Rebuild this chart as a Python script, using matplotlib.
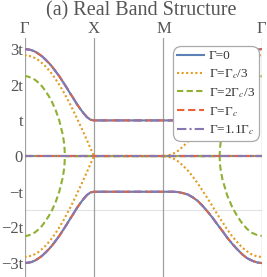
#!/usr/bin/env python3
"""Real part of the band structure along Gamma-X-M-Gamma for several gain/loss strengths."""

import numpy as np
import matplotlib
matplotlib.use("Agg")
import matplotlib.pyplot as plt

plt.rcParams["font.family"] = ["Liberation Serif", "DejaVu Serif"]
plt.rcParams["mathtext.fontset"] = "stix"

# path fractions along each segment (0 -> 1)
frac = [0.00, 0.05, 0.10, 0.15, 0.20, 0.25, 0.30, 0.35, 0.40, 0.45, 0.50,
        0.55, 0.60, 0.65, 0.70, 0.75, 0.80, 0.85, 0.90, 0.95, 1.00]

# upper band (units of t), Gamma -> X and M -> Gamma
band_gx = [3.00, 2.99, 2.97, 2.93, 2.87, 2.80, 2.71, 2.61, 2.50, 2.37, 2.24,
           2.09, 1.94, 1.78, 1.63, 1.47, 1.33, 1.20, 1.09, 1.02, 1.00]
band_mg = [1.00, 1.00, 1.00, 1.01, 1.04, 1.08, 1.16, 1.26, 1.40, 1.56, 1.73,
           1.92, 2.10, 2.29, 2.46, 2.61, 2.75, 2.86, 2.93, 2.98, 3.00]

# Gamma = Gamma_c/3
orange_gx = [2.83, 2.82, 2.79, 2.75, 2.69, 2.61, 2.52, 2.41, 2.29, 2.15, 2.00,
             1.84, 1.66, 1.48, 1.28, 1.08, 0.87, 0.66, 0.44, 0.22, 0.00]
orange_mg = [0.00, 0.02, 0.07, 0.15, 0.27, 0.41, 0.58, 0.77, 0.98, 1.19, 1.41,
             1.64, 1.85, 2.06, 2.25, 2.41, 2.56, 2.67, 2.76, 2.81, 2.83]

# Gamma = 2 Gamma_c/3
green_gx_frac = [0.00, 0.05, 0.10, 0.15, 0.20, 0.25, 0.30, 0.35, 0.40, 0.45,
                 0.50, 0.55, 0.57, 0.575, 0.58, 0.5804, 1.00]
green_gx = [2.24, 2.23, 2.19, 2.14, 2.06, 1.96, 1.83, 1.68, 1.50, 1.28,
            1.00, 0.61, 0.36, 0.26, 0.07, 0.00, 0.00]
green_mg_frac = [0.00, 0.5722, 0.575, 0.58, 0.60, 0.65, 0.70, 0.75, 0.80,
                 0.85, 0.90, 0.95, 1.00]
green_mg = [0.00, 0.00, 0.21, 0.34, 0.65, 1.11, 1.43, 1.68, 1.88,
            2.04, 2.15, 2.21, 2.24]

labels = ["Γ=0", "Γ=Γ$_c$/3", "Γ=2Γ$_c$/3", "Γ=Γ$_c$", "Γ=1.1Γ$_c$"]
colors = ["#5E81B5", "#E19C24", "#8FB032", "#EB6235", "#8778B3"]
dashes = [(None, None), (1.0, 1.2), (3.0, 1.6), (3.5, 1.8), (4.5, 1.5, 1.0, 1.5)]

sym_labels = ["Γ", "X", "M", "Γ"]
y_ticks = [-3, -2, -1, 0, 1, 2, 3]
y_labels = ["−3t", "−2t", "−t", "0", "t", "2t", "3t"]

# path node positions (units of pi): Gamma-X, X-M, M-Gamma(diagonal)
nodes = [0.0, 1.0, 2.0, 2.0 + np.sqrt(2)]


def path(gx_f, gx_v, xm_v, mg_f, mg_v):
    x = np.concatenate([np.array(gx_f) * (nodes[1] - nodes[0]) + nodes[0],
                        [nodes[1], nodes[2]],
                        np.array(mg_f) * (nodes[3] - nodes[2]) + nodes[2]])
    y = np.concatenate([gx_v, [xm_v, xm_v], mg_v])
    return x, y


curves = [
    path(frac, band_gx, 1.0, frac, band_mg),
    path(frac, orange_gx, 0.0, frac, orange_mg),
    path(green_gx_frac, green_gx, 0.0, green_mg_frac, green_mg),
    path(frac, band_gx, 1.0, frac, band_mg),
    path(frac, band_gx, 1.0, frac, band_mg),
]

fig = plt.figure(figsize=(2.67, 2.77), dpi=100)
ax = fig.add_axes([24.5 / 267, 0.0, 237.2 / 267, 239 / 277])

for xn in nodes:
    ax.axvline(xn, color="#a0a0a0", lw=0.9, zorder=1)
ax.axhline(-1.5, color="#e2e2e2", lw=0.8, zorder=0)

handles = []
for (x, y), c, d, lab in zip(curves, colors, dashes, labels):
    kw = dict(color=c, lw=1.5, zorder=3)
    if d[0] is not None:
        kw["dashes"] = d
    h, = ax.plot(x, y, label=lab, **kw)
    ax.plot(x, -y, **kw)
    ax.plot([nodes[0], nodes[-1]], [0, 0], **kw)
    handles.append(h)

ax.set_xlim(nodes[0], nodes[-1])
ax.set_ylim(-3.39, 3.31)
for sp in ax.spines.values():
    sp.set_visible(False)

ax.xaxis.tick_top()
ax.set_xticks(nodes)
ax.set_xticklabels(sym_labels)
ax.set_yticks(y_ticks)
ax.set_yticklabels(y_labels)
ax.tick_params(axis="both", length=0, labelsize=12, colors="#555555")
ax.tick_params(axis="x", pad=1)
ax.tick_params(axis="y", pad=1)

leg = ax.legend(handles=handles, loc="upper right", bbox_to_anchor=(0.9886, 0.9665),
                borderaxespad=0, fontsize=9.5, handlelength=2.0, handletextpad=0.4,
                labelspacing=0.38, borderpad=0.3, fancybox=True,
                framealpha=1, edgecolor="#aaaaaa")
leg.get_frame().set_linewidth(0.9)
leg.get_frame().set_boxstyle("round", pad=0.0, rounding_size=0.6)
for t in leg.get_texts():
    t.set_color("#333333")

fig.text(141.5 / 267, 1 - 11 / 277, "(a) Real Band Structure", ha="center",
         va="center", fontsize=14.5, color="#555555")

fig.savefig("out.png", dpi=100)
